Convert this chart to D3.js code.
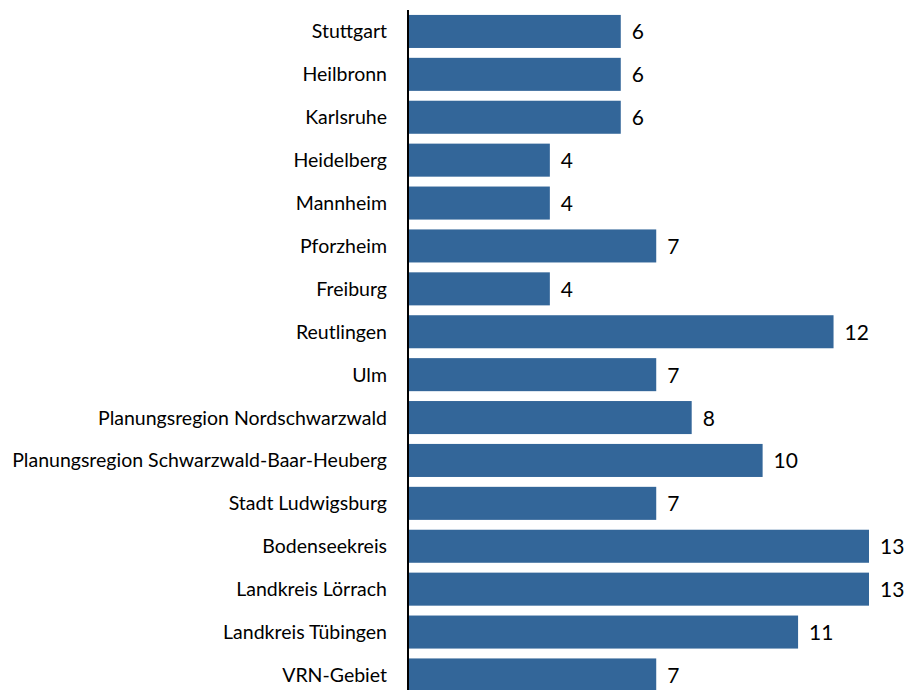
<html>
<head>
    <meta charset="utf-8">
    <title>Balkendiagramm</title>
</head>
<style>
    body { margin: 0; background: #fff; }
    text { font-family: Lato, "Open Sans", sans-serif; fill: #000; font-weight: 400; }
</style>
<body>
<script src="https://cdn.jsdelivr.net/npm/d3@7"></script>
<script>
    var categories = ["Stuttgart", "Heilbronn", "Karlsruhe", "Heidelberg", "Mannheim", "Pforzheim",
        "Freiburg", "Reutlingen", "Ulm", "Planungsregion Nordschwarzwald",
        "Planungsregion Schwarzwald-Baar-Heuberg", "Stadt Ludwigsburg", "Bodenseekreis",
        "Landkreis Lörrach", "Landkreis Tübingen", "VRN-Gebiet"];
    var values = [6, 6, 6, 4, 4, 7, 4, 12, 7, 8, 10, 7, 13, 13, 11, 7];

    var width = 912;
    var height = 690;

    var svg = d3.select("body").append("svg")
        .attr("width", width)
        .attr("height", height);

    // x: 0 liegt an der Achse
    var x = d3.scaleLinear()
        .domain([0, 13])
        .range([408, 869]);

    var y = d3.scaleBand()
        .domain(categories)
        .range([10, 10 + categories.length * 42.9])
        .paddingInner(0.23)
        .paddingOuter(0.115);

    svg.selectAll("rect.bar")
        .data(values)
        .enter()
        .append("rect")
        .attr("class", "bar")
        .attr("x", x(0))
        .attr("y", function (d, i) { return y(categories[i]); })
        .attr("width", function (d) { return x(d) - x(0); })
        .attr("height", y.bandwidth())
        .attr("fill", "#336699");

    // Werte rechts neben den Balken
    svg.selectAll("text.val")
        .data(values)
        .enter()
        .append("text")
        .attr("class", "val")
        .attr("x", function (d) { return x(d) + 11; })
        .attr("y", function (d, i) { return y(categories[i]) + y.bandwidth() / 2; })
        .attr("dy", "0.38em")
        .style("font-size", "21px")
        .text(function (d) { return d; });

    // Kategorien links
    svg.selectAll("text.cat")
        .data(categories)
        .enter()
        .append("text")
        .attr("class", "cat")
        .attr("x", 387)
        .attr("y", function (d) { return y(d) + y.bandwidth() / 2; })
        .attr("dy", "0.36em")
        .attr("text-anchor", "end")
        .style("font-size", "19.5px")
        .text(function (d) { return d; });

    // Achsenlinie
    svg.append("line")
        .attr("x1", x(0))
        .attr("x2", x(0))
        .attr("y1", 10)
        .attr("y2", height)
        .attr("stroke", "#000")
        .attr("stroke-width", 2);
</script>
</body>
</html>
